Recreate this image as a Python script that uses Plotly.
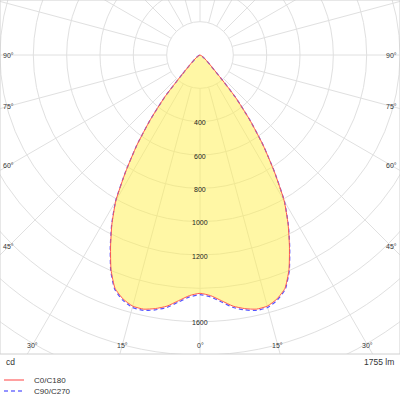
import numpy as np
import plotly.graph_objects as go

# luminous intensity (cd) vs angle from nadir (deg), symmetric halves
angles = [0, 2.5, 5, 7.5, 10, 12.5, 15, 17.5, 20, 22.5, 25, 27.5, 30, 32.5, 35, 37.5, 40, 42.5, 45]
c0_c180 = [1430, 1445, 1480, 1520, 1545, 1562, 1560, 1535, 1490, 1395, 1270, 1145, 1010, 830, 660, 490, 330, 160, 0]
c90_c270 = [1438, 1453, 1488, 1528, 1553, 1570, 1568, 1542, 1496, 1400, 1274, 1148, 1013, 832, 662, 491, 331, 160, 0]

ring_values = [200, 400, 600, 800, 1000, 1200, 1400, 1600, 1800, 2000, 2200]
ring_labels = [400, 600, 800, 1000, 1200, 1600]
spoke_angles = list(range(0, 360, 15))
angle_labels = [0, 15, 30, 45, 60, 75, 90]
flux_text = "1755 lm"
unit_text = "cd"
names = ["C0/C180", "C90/C270"]

GRID = "#e0e0e0"
TXT = "#333333"
FONT = "Liberation Sans"


def to_xy(vals):
    # mirror the half curve to both sides and convert polar -> cartesian
    a = np.array([-x for x in angles[::-1]] + angles[1:], dtype=float)
    v = np.array(vals[::-1] + vals[1:], dtype=float)
    t = np.radians(a)
    return v * np.sin(t), -v * np.cos(t)


fig = go.Figure()

# radial spokes (start at the first ring)
sx, sy = [], []
for a in spoke_angles:
    t = np.radians(a)
    sx += [200 * np.sin(t), 3000 * np.sin(t), None]
    sy += [-200 * np.cos(t), -3000 * np.cos(t), None]
fig.add_trace(go.Scatter(x=sx, y=sy, mode="lines", line=dict(color=GRID, width=1),
                         hoverinfo="skip", showlegend=False))

shapes = []
for r in ring_values:
    shapes.append(dict(type="circle", xref="x", yref="y", x0=-r, x1=r, y0=-r, y1=r,
                       line=dict(color=GRID, width=1), layer="below"))

# yellow area
x0, y0 = to_xy(c0_c180)
fig.add_trace(go.Scatter(x=x0, y=y0, mode="lines", fill="toself",
                         fillcolor="rgba(255,240,75,0.5)", line=dict(width=0, shape="spline", smoothing=0.5),
                         hoverinfo="skip", showlegend=False))

x1, y1 = to_xy(c90_c270)
fig.add_trace(go.Scatter(x=x1, y=y1, mode="lines", name=names[1],
                         line=dict(color="#5555ff", width=1.2, dash="4px,3px", shape="spline", smoothing=0.5),
                         showlegend=False))
fig.add_trace(go.Scatter(x=x0, y=y0, mode="lines", name=names[0],
                         line=dict(color="#ff5a50", width=1, shape="spline", smoothing=0.5),
                         showlegend=False))

annotations = []
for r in ring_labels:
    annotations.append(dict(x=0, y=-r, text=str(r), showarrow=False, yshift=-1,
                            font=dict(family=FONT, size=7, color="#222")))

# angle labels where the spokes meet an inset frame
xlim, ybot = 1149, -1740
for a in angle_labels:
    t = np.radians(a)
    if a == 0 or np.tan(t) * (-ybot) < xlim:
        px, py = -ybot * np.tan(t), ybot
    else:
        px, py = xlim, -xlim / np.tan(t)
    for sgn in ([1] if a == 0 else [-1, 1]):
        annotations.append(dict(x=sgn * px, y=py, text=f"{a}°", showarrow=False,
                                font=dict(family=FONT, size=7, color=TXT)))

annotations.append(dict(x=4 / 400, y=1 - 362 / 400, xref="paper", yref="paper", text=unit_text,
                        showarrow=False, xanchor="left", yanchor="middle",
                        font=dict(family=FONT, size=8.5, color=TXT)))
annotations.append(dict(x=396 / 400, y=1 - 362 / 400, xref="paper", yref="paper", text=flux_text,
                        showarrow=False, xanchor="right", yanchor="middle",
                        font=dict(family=FONT, size=8.5, color=TXT)))

# legend drawn by hand
leg = [(names[0], "#ff8080", "solid", 380), (names[1], "#7070ff", "4px,3px", 391)]
for name, col, dash, yy in leg:
    shapes.append(dict(type="line", xref="paper", yref="paper", x0=4 / 400, x1=24 / 400,
                       y0=1 - yy / 400, y1=1 - yy / 400, line=dict(color=col, width=1.5, dash=dash)))
    annotations.append(dict(x=32 / 400, y=1 - yy / 400, xref="paper", yref="paper", text=name,
                            showarrow=False, xanchor="left", yanchor="middle",
                            font=dict(family=FONT, size=8, color=TXT)))

# frame of the diagram area
shapes.append(dict(type="rect", xref="paper", yref="paper", x0=0, x1=1, y0=46 / 400, y1=1,
                   line=dict(color="#d0d0d0", width=1)))

fig.update_layout(
    width=400, height=400,
    margin=dict(l=0, r=0, t=0, b=0),
    paper_bgcolor="white", plot_bgcolor="white",
    xaxis=dict(range=[-1200, 1200], visible=False, domain=[0, 1]),
    yaxis=dict(range=[-1794, 330], visible=False, domain=[46 / 400, 1]),
    shapes=shapes, annotations=annotations,
    showlegend=False,
)

fig.write_html("out.html", config={"displayModeBar": False},
               post_script="document.body.style.margin='0';")
